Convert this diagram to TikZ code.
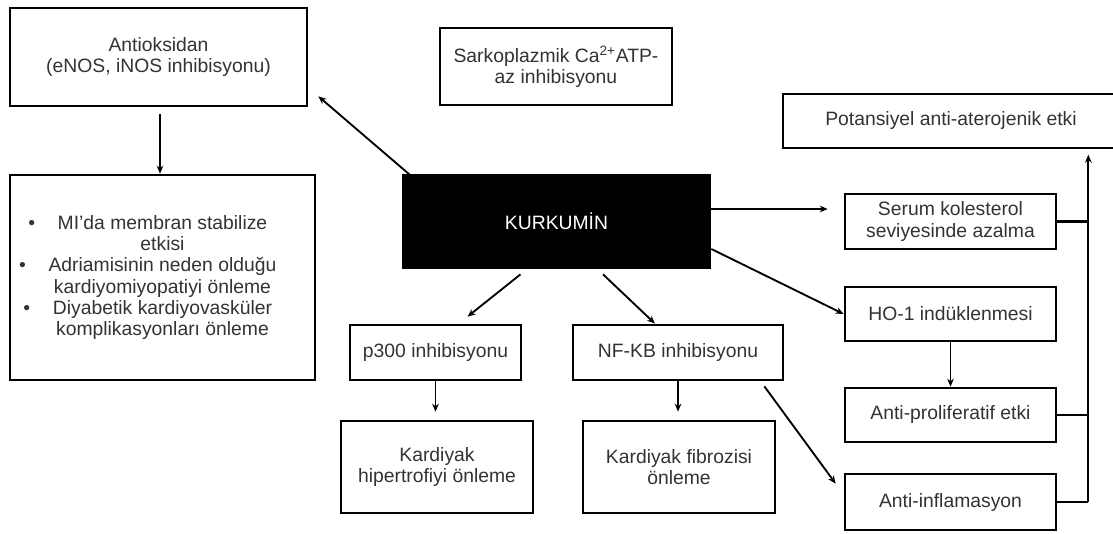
\documentclass[tikz,border=0pt]{standalone}
\usepackage{fontspec}
\setmainfont{Liberation Sans}
\usetikzlibrary{arrows.meta,calc}

\tikzset{every picture/.style={line width=0.75pt}}
\tikzset{
  box/.style={draw=black, line width=2pt, fill=white, text=black!80, align=center, inner sep=2pt,
    font=\fontsize{14.5}{16}\selectfont},
  arr/.style={draw=black, line width=1.4pt, -{Stealth[length=6pt,width=5pt]}},
  link/.style={draw=black, line width=1.6pt}
}

\begin{document}
\begin{tikzpicture}[x=0.75pt,y=0.75pt,yscale=-1,xscale=1]
	\useasboundingbox (0,0) rectangle (1113,534);

	%Shape: Rectangle [kurk] 
	\node[box, fill=black, text=white, minimum width=230.25pt, minimum height=69.75pt] (kurk) at (556.5,221.5) {KURKUMİN};
	%Shape: Rectangle [anti] 
	\node[box, minimum width=222.75pt, minimum height=73.5pt] (anti) at (158.5,57) {Antioksidan\\(eNOS, iNOS inhibisyonu)};
	%Shape: Rectangle [bullets] 
	\node[box, minimum width=228.75pt, minimum height=153.75pt] (bullets) at (162.5,277.5) {%
		\llap{\textbullet\hspace{17pt}}MI’da membran stabilize\\
		etkisi\\
		\llap{\textbullet\hspace{17pt}}Adriamisinin neden olduğu\\
		kardiyomiyopatiyi önleme\\
		\llap{\textbullet\hspace{17pt}}Diyabetik kardiyovasküler\\
		komplikasyonları önleme};
	%Shape: Rectangle [sarko] 
	\node[box, minimum width=174pt, minimum height=57.75pt] (sarko) at (556,66.5) {Sarkoplazmik Ca\textsuperscript{2+}ATP-\\az inhibisyonu};
	%Shape: Rectangle [pot] 
	\node[box, minimum width=252pt, minimum height=40.5pt] (pot) at (951,121) {Potansiyel anti-aterojenik etki};
	%Shape: Rectangle [serum] 
	\node[box, minimum width=158.25pt, minimum height=41.25pt] (serum) at (950.5,221.5) {Serum kolesterol\\seviyesinde azalma};
	%Shape: Rectangle [ho] 
	\node[box, minimum width=158.25pt, minimum height=40.5pt] (ho) at (950.5,314) {HO-1 indüklenmesi};
	%Shape: Rectangle [prolif] 
	\node[box, minimum width=158.25pt, minimum height=40.5pt] (prolif) at (950.5,415) {Anti-proliferatif etki};
	%Shape: Rectangle [inflam] 
	\node[box, minimum width=158.25pt, minimum height=42pt] (inflam) at (950.5,502) {Anti-inflamasyon};
	%Shape: Rectangle [p300] 
	\node[box, minimum width=128.25pt, minimum height=41.25pt] (p300) at (435.5,352.5) {p300 inhibisyonu};
	%Shape: Rectangle [nfkb] 
	\node[box, minimum width=157.5pt, minimum height=41.25pt] (nfkb) at (678,352.5) {NF-KB inhibisyonu};
	%Shape: Rectangle [hyper] 
	\node[box, minimum width=144pt, minimum height=69pt] (hyper) at (437,467) {Kardiyak\\hipertrofiyi önleme};
	%Shape: Rectangle [fibro] 
	\node[box, minimum width=144pt, minimum height=69pt] (fibro) at (679,467) {Kardiyak fibrozisi\\önleme};

	%Straight Lines [kurk -> anti] 
	\draw[arr] ($(kurk.north west)+(8,1)$) -- ($(anti.south east)+(10,-11)$);
	%Straight Lines [anti -> bullets] 
	\draw[arr, shorten <=5pt] ($(anti.south)+(1.5,0)$) -- ($(bullets.north)+(-2.5,0)$);
	%Straight Lines [kurk -> serum] 
	\draw[arr] ($(kurk.east)+(0,-12.5)$) -- ($(serum.west)+(-16,-12.5)$);
	%Straight Lines [kurk -> ho] 
	\draw[arr] ($(kurk.east)+(0,27.5)$) -- (ho.west);
	%Straight Lines [kurk -> p300] 
	\draw[arr] ($(kurk.south)+(-36,5)$) -- ($(p300.north)+(32,-7)$);
	%Straight Lines [kurk -> nfkb] 
	\draw[arr] ($(kurk.south)+(46.5,5)$) -- ($(nfkb.north)+(-23,0)$);
	%Straight Lines [p300 -> hyper] 
	\draw[arr, shorten >=6pt] (p300.south) -- (p300.south |- hyper.north);
	%Straight Lines [nfkb -> fibro] 
	\draw[arr, shorten >=6pt] (nfkb.south) -- (nfkb.south |- fibro.north);
	%Straight Lines [nfkb -> inflam] 
	\draw[arr] ($(nfkb.south east)+(-20,5)$) -- ($(inflam.north west)+(-8,11)$);
	%Straight Lines [ho -> prolif] 
	\draw[arr] (ho.south) -- (prolif.north);

	%Straight Lines [bus to pot] 
	\draw[link] (inflam.east) -- ++(31,0) coordinate (bus);
	\draw[arr, shorten >=4pt] (bus) -- (bus |- pot.south);
	\draw[link] (serum.east) -- (serum.east -| bus);
	\draw[link] (prolif.east) -- (prolif.east -| bus);

\end{tikzpicture}
\end{document}
